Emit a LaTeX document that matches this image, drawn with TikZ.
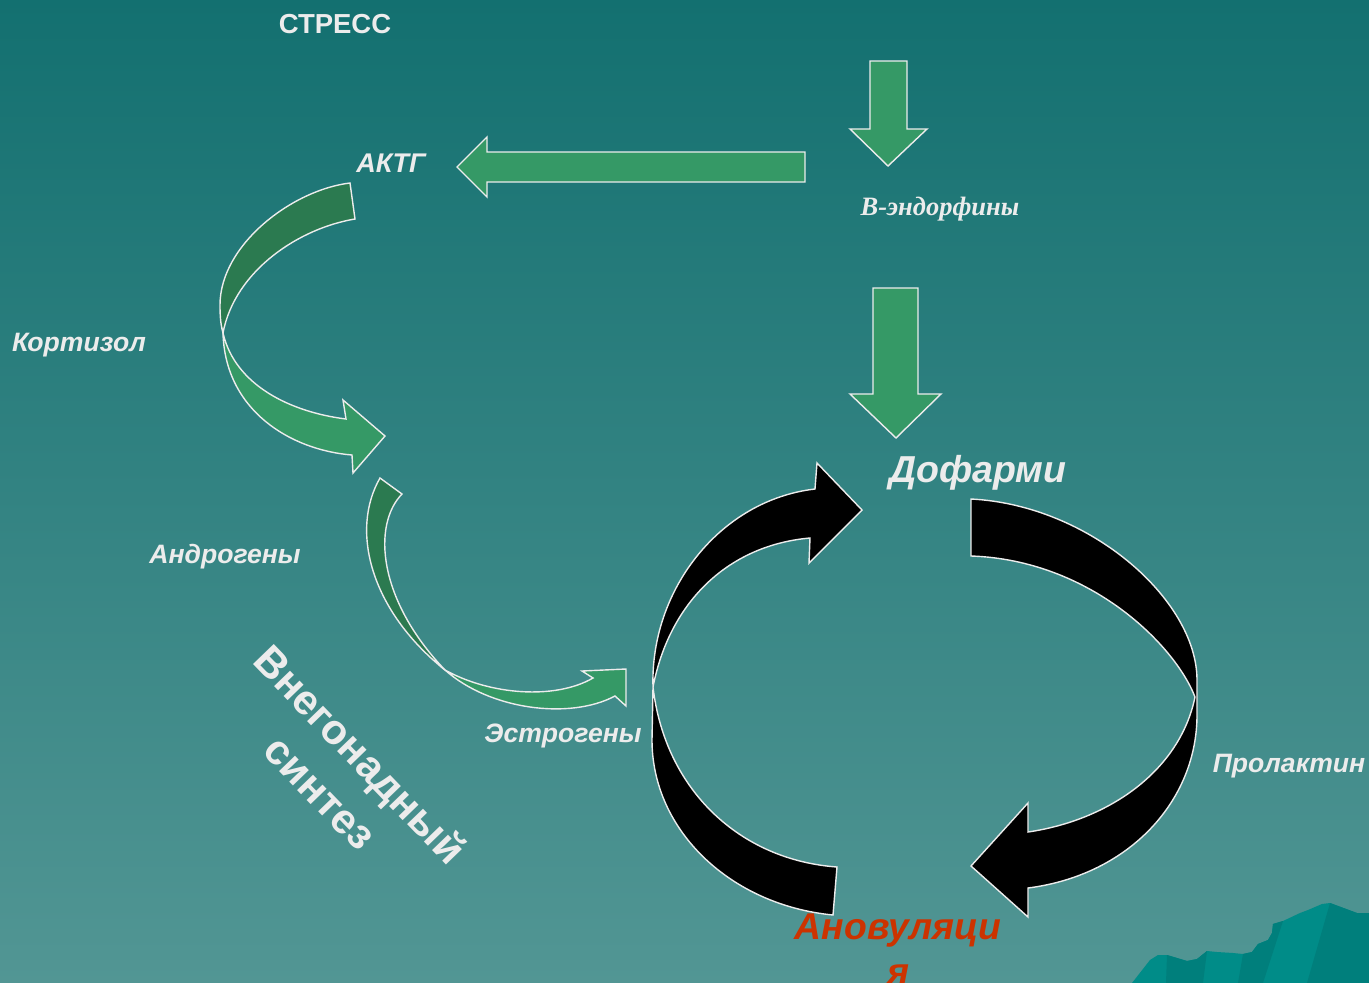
\documentclass[tikz,border=0pt]{standalone}
\usepackage{fontspec}
\setmainfont{Liberation Sans}
\newfontfamily\serifbi{Liberation Serif}
\definecolor{bgtop}{RGB}{19,112,112}
\definecolor{bgbot}{RGB}{82,150,148}
\definecolor{agreen}{RGB}{53,153,102}
\definecolor{dgreen}{RGB}{43,122,80}
\definecolor{txt}{RGB}{236,236,236}
\definecolor{ared}{RGB}{204,51,0}
\definecolor{mtn}{RGB}{0,140,136}
\definecolor{mtnd}{RGB}{0,127,124}
\begin{document}
\begin{tikzpicture}[x=1pt,y=-1pt,
  shp/.style={draw=txt,line width=1.4pt,line join=miter},
  lbl/.style={text=txt,font=\bfseries\itshape\fontsize{26.6}{30}\selectfont,inner sep=0pt},
  big/.style={text=txt,font=\bfseries\itshape\fontsize{37.5}{42}\selectfont,inner sep=0pt}]
\useasboundingbox (0,0) rectangle (1369,983);
\fill[top color=bgtop,bottom color=bgbot] (0,0) rectangle (1369,983);
% mountain
\fill[mtn] (1132,983) -- (1150,960) -- (1158,955) -- (1167,955) -- (1187,961) -- (1197,959)
  -- (1207,951) -- (1217,952) -- (1233,953) -- (1243,954) -- (1252,952) -- (1258,944)
  -- (1268,940) -- (1272,933) -- (1273,924) -- (1283,921) -- (1300,913) -- (1308,910)
  -- (1322,904) -- (1330,903) -- (1357,913) -- (1369,913) -- (1369,983) -- cycle;
\fill[mtnd] (1167,955) -- (1187,961) -- (1197,959) -- (1207,951) -- (1203,983) -- (1166,983) -- cycle;
\fill[mtnd] (1243,954) -- (1252,952) -- (1258,944) -- (1268,940) -- (1272,933) -- (1273,924) -- (1283,921) -- (1263,983) -- (1238,983) -- cycle;
\fill[mtnd] (1330,903) -- (1357,913) -- (1369,913) -- (1369,983) -- (1307,983) -- cycle;
% straight arrows
\filldraw[shp,fill=agreen] (870,61) -- (907,61) -- (907,129) -- (927,129) -- (888,166) -- (850,129) -- (870,129) -- cycle;
\filldraw[shp,fill=agreen] (805,152) -- (487,152) -- (487,137) -- (457,167) -- (487,197) -- (487,182) -- (805,182) -- cycle;
\filldraw[shp,fill=agreen] (873,288) -- (918,288) -- (918,394) -- (941,394) -- (896,438) -- (850,394) -- (873,394) -- cycle;
% curved green arrow 1
\filldraw[shp,fill=dgreen] (350,183) -- (355,219) .. controls (300,228) and (235,270) .. (223,333)
  .. controls (221,326) and (220,318) .. (220,305) .. controls (220,245) and (292,190) .. (350,183) -- cycle;
\filldraw[shp,fill=agreen] (223,333) .. controls (235,385) and (290,412) .. (346,419) -- (343,400) -- (385,436)
  -- (353,473) -- (352,455) .. controls (290,450) and (225,410) .. (223,333) -- cycle;
% curved green arrow 2
\filldraw[shp,fill=dgreen] (380,478) -- (402,494) .. controls (372,525) and (378,600) .. (445,670)
  .. controls (370,610) and (350,530) .. (380,478) -- cycle;
\filldraw[shp,fill=agreen] (445,670) .. controls (490,695) and (555,700) .. (593,678) -- (582,671) -- (626,669)
  -- (626,706) -- (615,696) .. controls (570,720) and (490,710) .. (445,670) -- cycle;
% black arrow left
\filldraw[shp,fill=black] (833,915) -- (837,867) .. controls (740,860) and (665,790) .. (653,687)
  .. controls (670,600) and (730,545) .. (810,538) -- (809,563) -- (862,510) -- (817,463) -- (815,489)
  .. controls (720,500) and (650,590) .. (653,687) -- (652,740) .. controls (652,830) and (730,905) .. (833,915) -- cycle;
% black arrow right
\filldraw[shp,fill=black] (971,556) -- (971,499) .. controls (1090,505) and (1197,600) .. (1197,680)
  -- (1197,715) .. controls (1197,800) and (1130,875) .. (1028,888) -- (1028,917) -- (971,866)
  -- (1028,803) -- (1028,832) .. controls (1110,820) and (1180,770) .. (1195,697)
  .. controls (1175,645) and (1090,560) .. (971,556) -- cycle;
% labels
\node[text=txt,font=\bfseries\fontsize{27.5}{30}\selectfont,inner sep=0pt] (stress) at (335,24) {СТРЕСС};
\node[lbl,font=\bfseries\itshape\fontsize{27}{30}\selectfont] (aktg) at (391,163) {АКТГ};
\node[text=txt,font=\serifbi\bfseries\itshape\fontsize{26.5}{30}\selectfont,inner sep=0pt] (endo) at (940,209) {В-эндорфины};
\node[lbl] (kort) at (79,345) {Кортизол};
\node[lbl] (andr) at (225,557) {Андрогены};
\node[lbl] (estr) at (563,736) {Эстрогены};
\node[lbl] (prol) at (1289,766) {Пролактин};
\node[big] (dof) at (978,473) {Дофарми};
\node[big,text=ared,align=center,font=\bfseries\itshape\fontsize{37.3}{45}\selectfont] (anov) at (898,949) {Ановуляци\\я};
\node[text=txt,font=\bfseries\fontsize{42}{55}\selectfont,align=center,rotate=-46,inner sep=0pt] (vneg) at (341,773) {Внегонадный\\синтез};
\end{tikzpicture}
\end{document}
